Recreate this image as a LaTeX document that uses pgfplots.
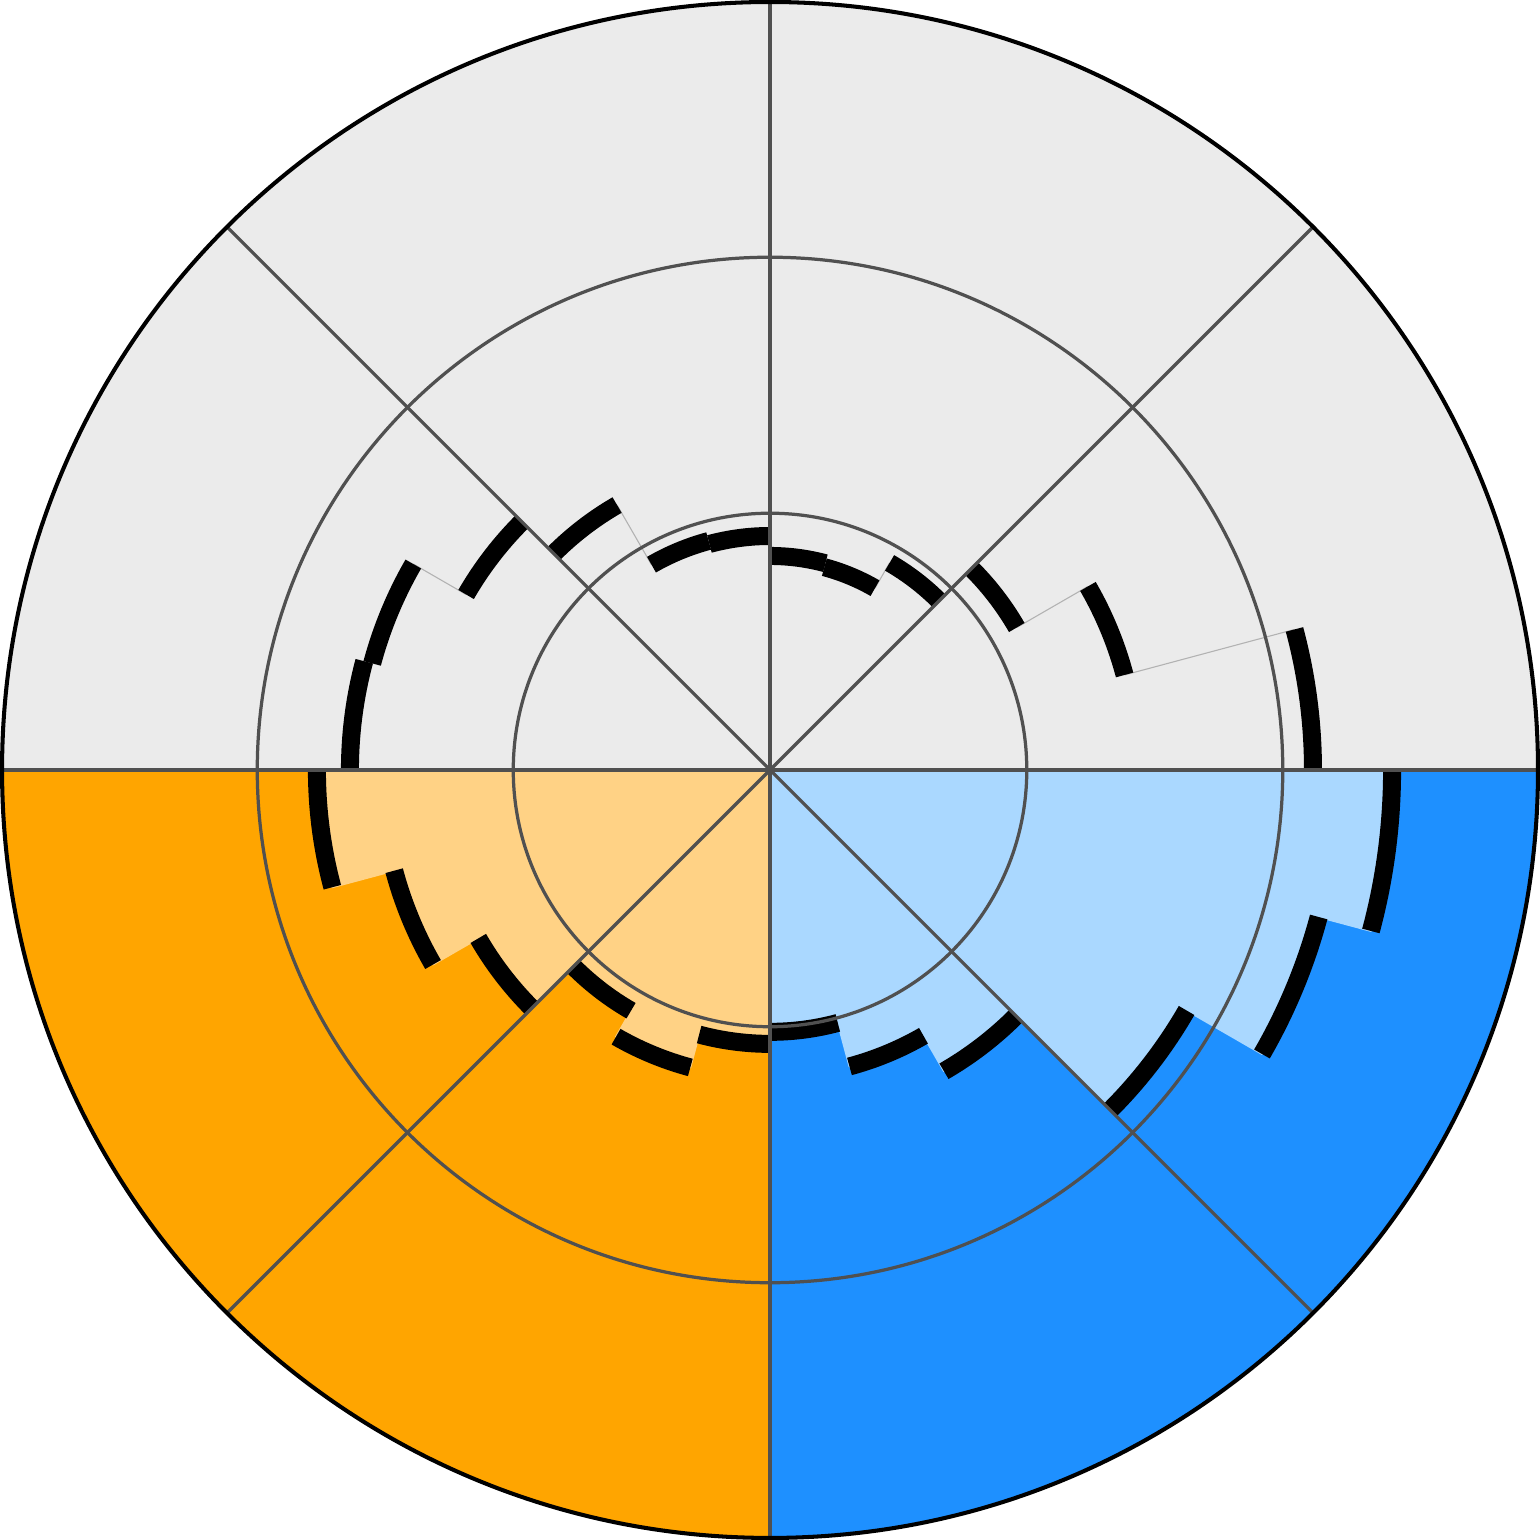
\documentclass[border=0pt]{standalone}
\usepackage{pgfplots}
\usepackage{pgfplotstable}
\pgfplotsset{compat=1.18}
\definecolor{bggrey}{HTML}{EBEBEB}
\definecolor{dorange}{HTML}{FFA500}
\definecolor{dblue}{HTML}{1E90FF}
\definecolor{lorange}{HTML}{FFD285}
\definecolor{lblue}{HTML}{AAD8FF}
\definecolor{gridc}{HTML}{505050}
\definecolor{connc}{HTML}{B2B2B2}

% a: start angle of the bar (degrees, counter-clockwise from east; bars run clockwise, 15 deg wide)
% r: bar height, g: group (0 grey, 1 blue, 2 orange)
\pgfplotstableread{
a r g
90 0.836 0
75 0.820 0
60 0.934 0
45 1.113 0
30 1.434 0
15 2.121 0
0 2.430 1
-15 2.219 1
-30 1.879 1
-45 1.359 1
-60 1.199 1
-75 1.023 1
-90 1.070 2
-105 1.203 2
-120 1.086 2
-135 1.316 2
-150 1.520 2
-165 1.770 2
-180 1.641 0
-195 1.609 0
-210 1.371 0
-225 1.195 0
-240 0.926 0
-255 0.914 0
}\bars

\begin{document}
\begin{tikzpicture}
\begin{axis}[
  name=ax, x=1cm, y=1cm,
  xmin=-3.008, xmax=3.008, ymin=-3.008, ymax=3.008,
  hide axis, clip=false, set layers,
]
\begin{pgfonlayer}{axis background}
  \fill[bggrey] (axis cs:0,0) circle[radius=3];
  \fill[dblue] (axis cs:0,0) -- (axis cs:3,0) arc[start angle=0, end angle=-90, radius=3] -- cycle;
  \fill[dorange] (axis cs:0,0) -- (axis cs:0,-3) arc[start angle=270, end angle=180, radius=3] -- cycle;
\end{pgfonlayer}

% bars
\pgfplotsinvokeforeach{0,...,23}{%
  \pgfplotstablegetelem{#1}{a}\of\bars \let\aval\pgfplotsretval
  \pgfplotstablegetelem{#1}{r}\of\bars \let\rval\pgfplotsretval
  \pgfplotstablegetelem{#1}{g}\of\bars \let\gval\pgfplotsretval
  \edef\barcol{\ifcase\gval\space bggrey\or lblue\else lorange\fi}%
  \edef\cmd{\noexpand\filldraw[fill=\barcol, draw=\barcol, line width=0.2pt, line join=round] (axis cs:0,0) -- ++(\aval:\rval cm) arc[start angle=\aval, end angle=\aval-15, radius=\rval cm] -- cycle;}%
  \cmd
}

% thin connectors between bar tops (grey half)
\pgfplotsinvokeforeach{1,2,3,4,5,19,20,21,22,23}{%
  \pgfplotstablegetelem{#1}{a}\of\bars \let\aval\pgfplotsretval
  \pgfplotstablegetelem{#1}{r}\of\bars \let\rval\pgfplotsretval
  \pgfmathtruncatemacro\prevrow{#1-1}%
  \pgfplotstablegetelem{\prevrow}{r}\of\bars \let\rprev\pgfplotsretval
  \pgfmathsetmacro\dr{\rval-\rprev}%
  \edef\cmd{\noexpand\draw[connc, line width=0.12pt] (axis cs:0,0) ++(\aval:\rprev cm) -- ++(\aval:\dr cm);}%
  \cmd
}

% thick bar tops
\pgfplotsinvokeforeach{0,...,23}{%
  \pgfplotstablegetelem{#1}{a}\of\bars \let\aval\pgfplotsretval
  \pgfplotstablegetelem{#1}{r}\of\bars \let\rval\pgfplotsretval
  \edef\cmd{\noexpand\draw[black, line width=2pt] (axis cs:0,0) ++(\aval:\rval cm) arc[start angle=\aval, end angle=\aval-15, radius=\rval cm];}%
  \cmd
}

\begin{pgfonlayer}{axis foreground}
  \draw[gridc, line width=0.36pt] (axis cs:0,0) circle[radius=1.003];
  \draw[gridc, line width=0.36pt] (axis cs:0,0) circle[radius=2.003];
  \draw[gridc, line width=0.42pt] (axis cs:-3,0) -- (axis cs:3,0);
  \draw[gridc, line width=0.42pt] (axis cs:0,-3) -- (axis cs:0,3);
  \draw[gridc, line width=0.36pt] (axis cs:-2.1213,-2.1213) -- (axis cs:2.1213,2.1213);
  \draw[gridc, line width=0.36pt] (axis cs:-2.1213,2.1213) -- (axis cs:2.1213,-2.1213);
  \draw[black, line width=0.45pt] (axis cs:0,0) circle[radius=3];
\end{pgfonlayer}
\end{axis}
\pgfresetboundingbox
\path (ax.south west) rectangle (ax.north east);
\end{tikzpicture}
\end{document}
